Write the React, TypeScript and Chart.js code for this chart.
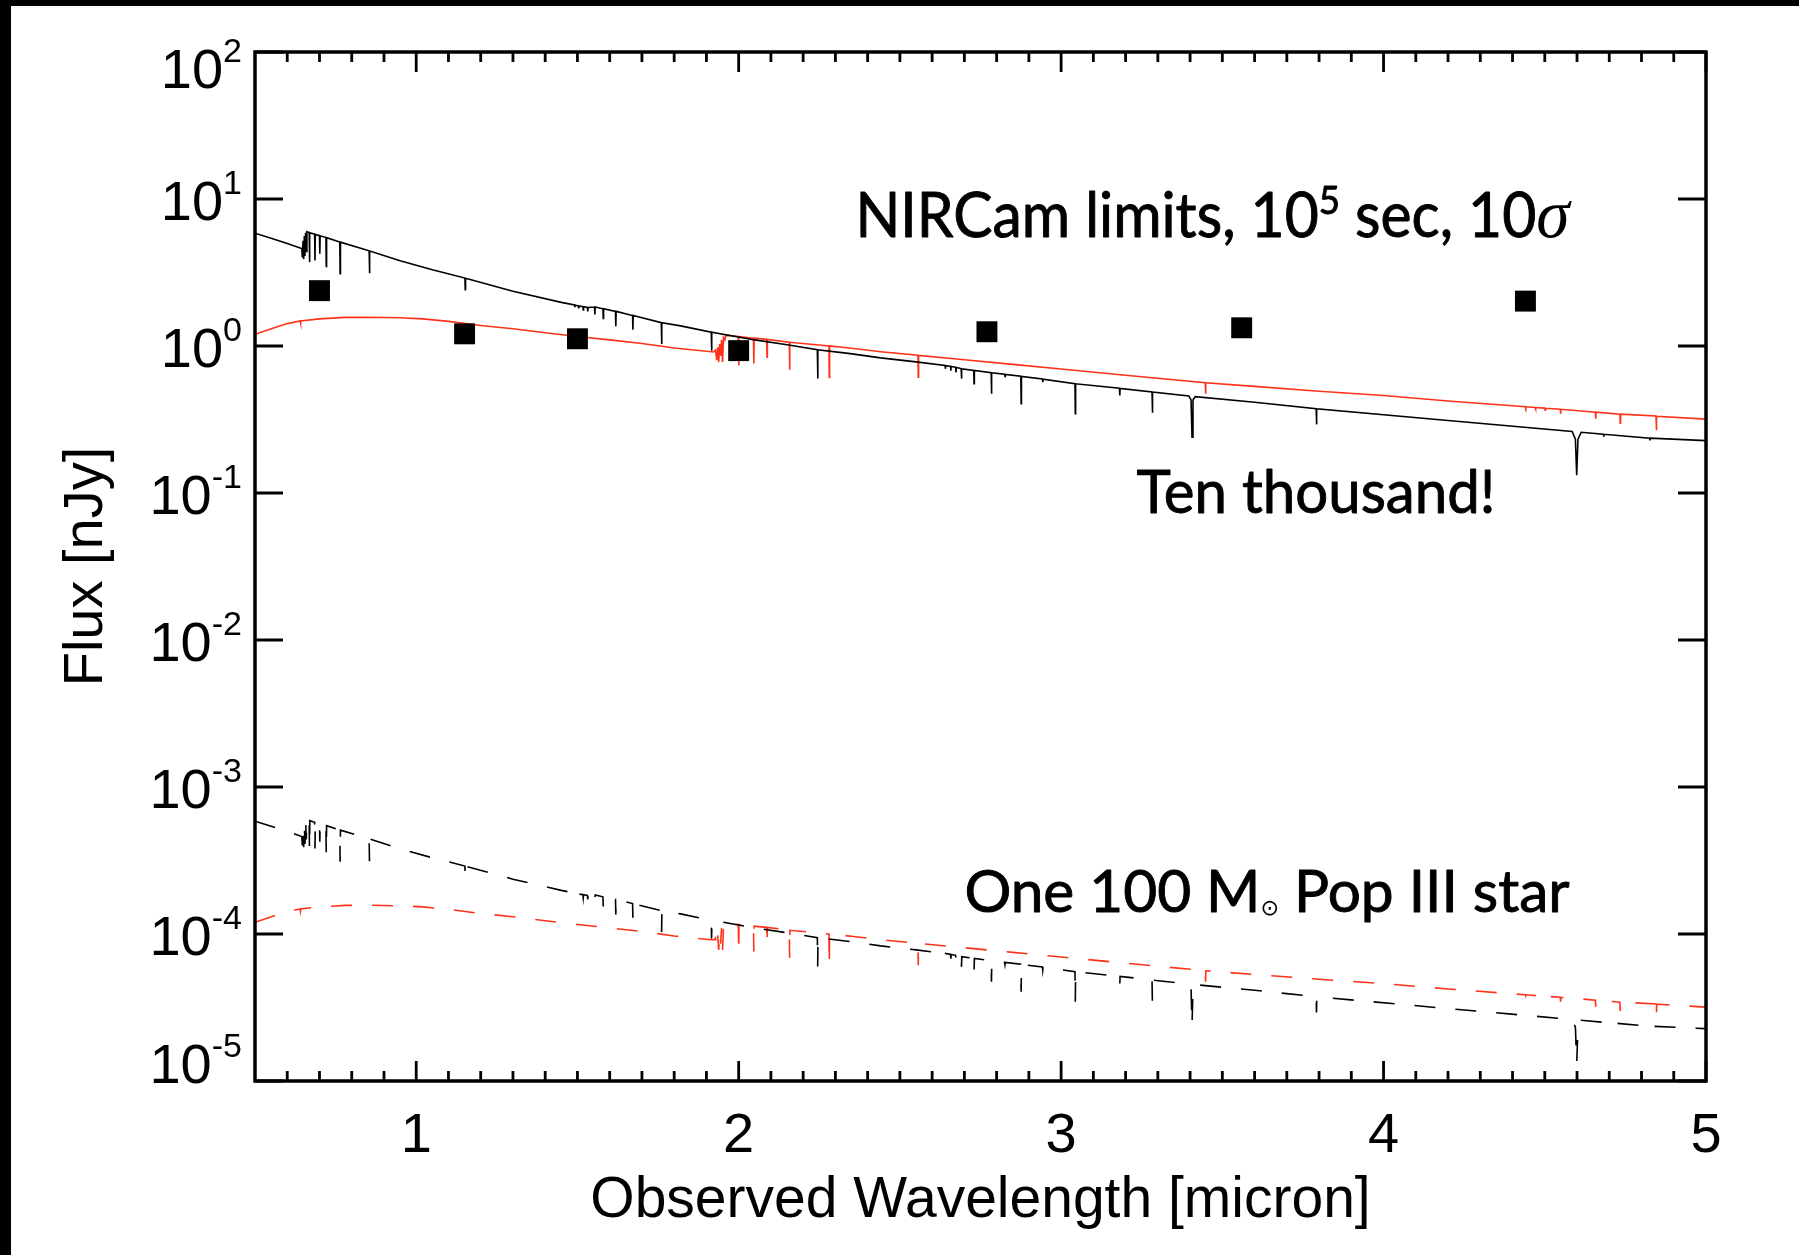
import React, { useEffect, useRef } from "react";
import { Chart, registerables } from "chart.js";

Chart.register(...registerables);

// ---------------- data ----------------
const wavelengthRange = [0.5, 5];
const fluxRange = [1e-5, 1e2];
const xMajorTicks = [1, 2, 3, 4, 5];
const xTickLabels = ["1", "2", "3", "4", "5"];
const yTickExponents = ["2", "1", "0", "-1", "-2", "-3", "-4", "-5"];

// NIRCam 10^5 s, 10 sigma limits (filled squares)
const nircamWavelength = [0.7, 1.15, 1.5, 2.0, 2.77, 3.56, 4.44];
const nircamLimit = [2.38, 1.21, 1.12, 0.93, 1.25, 1.33, 2.02];

// Ten thousand stars, black model (solid)
const tenThousandBlack: [number, number][] = [
  [0.5, 5.85], [0.55, 5.4], [0.6, 4.98], [0.645, 4.6],
  [0.647, 4.0], [0.649, 5.2], [0.651, 3.9], [0.653, 5.6], [0.655, 4.1], [0.657, 5.9], [0.659, 4.4], [0.661, 6.0],
  [0.668, 5.92], [0.669, 3.72], [0.67, 5.9], [0.685, 5.76], [0.686, 3.82], [0.687, 5.75],
  [0.7, 5.63], [0.701, 4.25], [0.702, 5.62], [0.72, 5.47], [0.721, 3.47], [0.722, 5.46],
  [0.763, 5.1], [0.764, 3.1], [0.765, 5.09], [0.854, 4.44], [0.855, 3.13], [0.856, 4.43],
  [0.95, 3.8], [1.05, 3.3], [1.151, 2.9], [1.152, 2.42], [1.153, 2.89], [1.3, 2.36], [1.45, 1.98],
  [1.491, 1.9], [1.492, 1.84], [1.493, 1.9], [1.503, 1.87], [1.504, 1.8], [1.505, 1.87],
  [1.517, 1.85], [1.518, 1.76], [1.519, 1.85], [1.531, 1.83], [1.532, 1.72], [1.533, 1.83],
  [1.553, 1.84], [1.554, 1.64], [1.555, 1.84], [1.579, 1.79], [1.58, 1.54], [1.581, 1.79],
  [1.618, 1.72], [1.619, 1.36], [1.62, 1.72], [1.671, 1.61], [1.672, 1.29], [1.673, 1.61],
  [1.76, 1.44], [1.761, 1.03], [1.762, 1.44], [1.82, 1.37], [1.915, 1.24], [1.916, 0.93], [1.917, 1.24],
  [2.05, 1.1], [2.15, 1.02], [2.244, 0.945], [2.245, 0.6], [2.246, 0.944], [2.346, 0.887], [2.44, 0.83],
  [2.55, 0.78], [2.64, 0.738], [2.641, 0.7], [2.642, 0.737], [2.657, 0.727], [2.658, 0.68], [2.659, 0.726],
  [2.673, 0.716], [2.674, 0.66], [2.675, 0.715], [2.69, 0.702], [2.691, 0.6], [2.692, 0.701],
  [2.729, 0.683], [2.73, 0.553], [2.731, 0.682], [2.783, 0.659], [2.784, 0.474], [2.785, 0.658],
  [2.825, 0.642], [2.826, 0.62], [2.827, 0.641], [2.875, 0.622], [2.876, 0.405], [2.877, 0.621],
  [2.942, 0.596], [2.943, 0.568], [2.944, 0.595], [3.043, 0.554], [3.044, 0.346], [3.045, 0.553],
  [3.181, 0.516], [3.182, 0.461], [3.183, 0.515], [3.282, 0.487], [3.283, 0.352], [3.284, 0.486],
  [3.396, 0.457], [3.403, 0.43], [3.406, 0.24], [3.409, 0.43], [3.416, 0.452], [3.6, 0.414],
  [3.791, 0.375], [3.792, 0.293], [3.793, 0.374], [4.2, 0.311],
  [4.585, 0.262], [4.595, 0.232], [4.599, 0.132], [4.603, 0.232], [4.613, 0.259],
  [4.682, 0.251], [4.683, 0.242], [4.684, 0.251], [4.825, 0.236], [4.826, 0.228], [4.827, 0.236], [5.0, 0.227],
];

// Ten thousand stars, red model (solid)
const tenThousandRed: [number, number][] = [
  [0.5, 1.2], [0.56, 1.33], [0.6, 1.42], [0.64, 1.48], [0.641, 1.43], [0.642, 1.48],
  [0.7, 1.53], [0.78, 1.565], [0.85, 1.57], [0.95, 1.555], [1.02, 1.53], [1.1, 1.47], [1.2, 1.38],
  [1.3, 1.31], [1.4, 1.23], [1.5, 1.16], [1.6, 1.1], [1.7, 1.04], [1.8, 0.97], [1.922, 0.91],
  [1.928, 0.94], [1.932, 0.8], [1.935, 0.98], [1.938, 0.78], [1.941, 1.03], [1.944, 0.86],
  [1.947, 1.1], [1.95, 0.78], [1.953, 1.14], [1.957, 1.1], [1.96, 1.17], [1.965, 1.18],
  [1.999, 1.16], [2.0, 0.74], [2.001, 1.16], [2.046, 1.13], [2.047, 0.76], [2.048, 1.13],
  [2.087, 1.11], [2.088, 0.84], [2.089, 1.11], [2.157, 1.06], [2.158, 0.69], [2.159, 1.06],
  [2.28, 1.0], [2.281, 0.61], [2.282, 1.0], [2.35, 0.965], [2.44, 0.915],
  [2.556, 0.865], [2.557, 0.614], [2.558, 0.864], [2.7, 0.806], [2.85, 0.75], [3.0, 0.697], [3.2, 0.633],
  [3.447, 0.563], [3.448, 0.474], [3.449, 0.562], [3.6, 0.531], [3.8, 0.492], [4.0, 0.46], [4.2, 0.423],
  [4.4, 0.392], [4.44, 0.386], [4.441, 0.38], [4.442, 0.386], [4.47, 0.382], [4.471, 0.374], [4.472, 0.381],
  [4.5, 0.378], [4.501, 0.366], [4.502, 0.377], [4.548, 0.371], [4.549, 0.346], [4.55, 0.371],
  [4.657, 0.355], [4.658, 0.32], [4.659, 0.355], [4.733, 0.344], [4.734, 0.299], [4.735, 0.344],
  [4.845, 0.334], [4.846, 0.267], [4.847, 0.333], [5.0, 0.318],
];

// One 100 Msun Pop III star, black model (dashed)
const oneStarBlack: [number, number][] = [
  [0.5, 5.85e-4], [0.55, 5.4e-4], [0.6, 4.98e-4], [0.645, 4.6e-4],
  [0.647, 4.0e-4], [0.649, 5.2e-4], [0.651, 3.9e-4], [0.653, 5.6e-4], [0.655, 4.1e-4], [0.657, 5.9e-4], [0.659, 4.4e-4], [0.661, 6.0e-4],
  [0.668, 5.92e-4], [0.669, 3.72e-4], [0.67, 5.9e-4], [0.685, 5.76e-4], [0.686, 3.82e-4], [0.687, 5.75e-4],
  [0.7, 5.63e-4], [0.701, 4.25e-4], [0.702, 5.62e-4], [0.72, 5.47e-4], [0.721, 3.47e-4], [0.722, 5.46e-4],
  [0.763, 5.1e-4], [0.764, 3.1e-4], [0.765, 5.09e-4], [0.854, 4.44e-4], [0.855, 3.13e-4], [0.856, 4.43e-4],
  [0.95, 3.8e-4], [1.05, 3.3e-4], [1.151, 2.9e-4], [1.152, 2.42e-4], [1.153, 2.89e-4], [1.3, 2.36e-4], [1.45, 1.98e-4],
  [1.491, 1.9e-4], [1.492, 1.84e-4], [1.493, 1.9e-4], [1.503, 1.87e-4], [1.504, 1.8e-4], [1.505, 1.87e-4],
  [1.517, 1.85e-4], [1.518, 1.76e-4], [1.519, 1.85e-4], [1.531, 1.83e-4], [1.532, 1.72e-4], [1.533, 1.83e-4],
  [1.553, 1.84e-4], [1.554, 1.64e-4], [1.555, 1.84e-4], [1.579, 1.79e-4], [1.58, 1.54e-4], [1.581, 1.79e-4],
  [1.618, 1.72e-4], [1.619, 1.36e-4], [1.62, 1.72e-4], [1.671, 1.61e-4], [1.672, 1.29e-4], [1.673, 1.61e-4],
  [1.76, 1.44e-4], [1.761, 1.03e-4], [1.762, 1.44e-4], [1.82, 1.37e-4], [1.915, 1.24e-4], [1.916, 0.93e-4], [1.917, 1.24e-4],
  [2.05, 1.1e-4], [2.15, 1.02e-4], [2.244, 0.945e-4], [2.245, 0.6e-4], [2.246, 0.944e-4], [2.346, 0.887e-4], [2.44, 0.83e-4],
  [2.55, 0.78e-4], [2.64, 0.738e-4], [2.641, 0.7e-4], [2.642, 0.737e-4], [2.657, 0.727e-4], [2.658, 0.68e-4], [2.659, 0.726e-4],
  [2.673, 0.716e-4], [2.674, 0.66e-4], [2.675, 0.715e-4], [2.69, 0.702e-4], [2.691, 0.6e-4], [2.692, 0.701e-4],
  [2.729, 0.683e-4], [2.73, 0.553e-4], [2.731, 0.682e-4], [2.783, 0.659e-4], [2.784, 0.474e-4], [2.785, 0.658e-4],
  [2.825, 0.642e-4], [2.826, 0.62e-4], [2.827, 0.641e-4], [2.875, 0.622e-4], [2.876, 0.405e-4], [2.877, 0.621e-4],
  [2.942, 0.596e-4], [2.943, 0.568e-4], [2.944, 0.595e-4], [3.043, 0.554e-4], [3.044, 0.346e-4], [3.045, 0.553e-4],
  [3.181, 0.516e-4], [3.182, 0.461e-4], [3.183, 0.515e-4], [3.282, 0.487e-4], [3.283, 0.352e-4], [3.284, 0.486e-4],
  [3.396, 0.457e-4], [3.403, 0.43e-4], [3.406, 0.24e-4], [3.409, 0.43e-4], [3.416, 0.452e-4], [3.6, 0.414e-4],
  [3.791, 0.375e-4], [3.792, 0.293e-4], [3.793, 0.374e-4], [4.2, 0.311e-4],
  [4.585, 0.262e-4], [4.595, 0.232e-4], [4.599, 0.132e-4], [4.603, 0.232e-4], [4.613, 0.259e-4],
  [4.682, 0.251e-4], [4.683, 0.242e-4], [4.684, 0.251e-4], [4.825, 0.236e-4], [4.826, 0.228e-4], [4.827, 0.236e-4], [5.0, 0.227e-4],
];

// One 100 Msun Pop III star, red model (dashed)
const oneStarRed: [number, number][] = [
  [0.5, 1.2e-4], [0.56, 1.33e-4], [0.6, 1.42e-4], [0.64, 1.48e-4], [0.641, 1.43e-4], [0.642, 1.48e-4],
  [0.7, 1.53e-4], [0.78, 1.565e-4], [0.85, 1.57e-4], [0.95, 1.555e-4], [1.02, 1.53e-4], [1.1, 1.47e-4], [1.2, 1.38e-4],
  [1.3, 1.31e-4], [1.4, 1.23e-4], [1.5, 1.16e-4], [1.6, 1.1e-4], [1.7, 1.04e-4], [1.8, 0.97e-4], [1.922, 0.91e-4],
  [1.928, 0.94e-4], [1.932, 0.8e-4], [1.935, 0.98e-4], [1.938, 0.78e-4], [1.941, 1.03e-4], [1.944, 0.86e-4],
  [1.947, 1.1e-4], [1.95, 0.78e-4], [1.953, 1.14e-4], [1.957, 1.1e-4], [1.96, 1.17e-4], [1.965, 1.18e-4],
  [1.999, 1.16e-4], [2.0, 0.74e-4], [2.001, 1.16e-4], [2.046, 1.13e-4], [2.047, 0.76e-4], [2.048, 1.13e-4],
  [2.087, 1.11e-4], [2.088, 0.84e-4], [2.089, 1.11e-4], [2.157, 1.06e-4], [2.158, 0.69e-4], [2.159, 1.06e-4],
  [2.28, 1.0e-4], [2.281, 0.61e-4], [2.282, 1.0e-4], [2.35, 0.965e-4], [2.44, 0.915e-4],
  [2.556, 0.865e-4], [2.557, 0.614e-4], [2.558, 0.864e-4], [2.7, 0.806e-4], [2.85, 0.75e-4], [3.0, 0.697e-4], [3.2, 0.633e-4],
  [3.447, 0.563e-4], [3.448, 0.474e-4], [3.449, 0.562e-4], [3.6, 0.531e-4], [3.8, 0.492e-4], [4.0, 0.46e-4], [4.2, 0.423e-4],
  [4.4, 0.392e-4], [4.44, 0.386e-4], [4.441, 0.38e-4], [4.442, 0.386e-4], [4.47, 0.382e-4], [4.471, 0.374e-4], [4.472, 0.381e-4],
  [4.5, 0.378e-4], [4.501, 0.366e-4], [4.502, 0.377e-4], [4.548, 0.371e-4], [4.549, 0.346e-4], [4.55, 0.371e-4],
  [4.657, 0.355e-4], [4.658, 0.32e-4], [4.659, 0.355e-4], [4.733, 0.344e-4], [4.734, 0.299e-4], [4.735, 0.344e-4],
  [4.845, 0.334e-4], [4.846, 0.267e-4], [4.847, 0.333e-4], [5.0, 0.318e-4],
];

// Annotation texts, anchored in data coordinates (left x, right x, baseline y)
const annotationNircam = { x0: 2.362, x1: 4.577, y: 5.5 };
const annotationTenK = { x0: 3.234, x1: 4.347, y: 0.0726 };
const annotationOneStar = { x0: 2.7, x1: 4.577, y: 1.41e-4 };

// ---------------- styling ----------------
const RED = "#ff3219";
const SANS = '"Liberation Sans", Arial, Helvetica, sans-serif';
const GILL = 'Lato, "Noto Sans", sans-serif';
const SERIF = '"Liberation Serif", "DejaVu Serif", serif';

const xMinorTicks: number[] = [];
for (let i = 6; i < 50; i++) if (i % 10 !== 0) xMinorTicks.push(i / 10);

type Part = { t: string; font: string; dy?: number; noStroke?: boolean };

function drawRich(ctx: CanvasRenderingContext2D, parts: Part[], x0: number, x1: number, y: number) {
  let total = 0;
  for (const p of parts) {
    ctx.font = p.font;
    total += ctx.measureText(p.t).width;
  }
  let sx = (x1 - x0) / total;
  sx = Math.max(0.8, Math.min(1.2, sx));
  ctx.save();
  ctx.translate(x0, y);
  ctx.scale(sx, 1);
  ctx.textAlign = "left";
  ctx.textBaseline = "alphabetic";
  ctx.lineWidth = 0.9;
  ctx.strokeStyle = "#000";
  ctx.lineJoin = "round";
  let cx = 0;
  for (const p of parts) {
    ctx.font = p.font;
    ctx.fillText(p.t, cx, p.dy || 0);
    if (!p.noStroke) ctx.strokeText(p.t, cx, p.dy || 0);
    cx += ctx.measureText(p.t).width;
  }
  ctx.restore();
}

const framePlugin = {
  id: "idlFrame",
  afterDraw(chart: any) {
    const ctx: CanvasRenderingContext2D = chart.ctx;
    const xs = chart.scales.x;
    const ys = chart.scales.y;
    const L = xs.getPixelForValue(wavelengthRange[0]);
    const R = xs.getPixelForValue(wavelengthRange[1]);
    const T = ys.getPixelForValue(fluxRange[1]);
    const B = ys.getPixelForValue(fluxRange[0]);

    ctx.save();
    ctx.strokeStyle = "#000";
    ctx.fillStyle = "#000";
    ctx.lineCap = "butt";

    // tick marks (inward, mirrored on top / right)
    ctx.lineWidth = 2.8;
    ctx.beginPath();
    for (const v of xMajorTicks) {
      const px = xs.getPixelForValue(v);
      ctx.moveTo(px, B);
      ctx.lineTo(px, B - 20);
      ctx.moveTo(px, T);
      ctx.lineTo(px, T + 20);
    }
    for (const v of xMinorTicks) {
      const px = xs.getPixelForValue(v);
      ctx.moveTo(px, B);
      ctx.lineTo(px, B - 10);
      ctx.moveTo(px, T);
      ctx.lineTo(px, T + 10);
    }
    for (const e of yTickExponents) {
      const py = ys.getPixelForValue(Math.pow(10, Number(e)));
      ctx.moveTo(L, py);
      ctx.lineTo(L + 28, py);
      ctx.moveTo(R, py);
      ctx.lineTo(R - 28, py);
    }
    ctx.stroke();

    // axis box
    ctx.lineWidth = 3.5;
    ctx.beginPath();
    ctx.rect(L, T, R - L, B - T);
    ctx.stroke();

    // x tick labels
    ctx.textAlign = "center";
    ctx.textBaseline = "alphabetic";
    ctx.font = `56px ${SANS}`;
    xMajorTicks.forEach((v, i) => {
      ctx.fillText(xTickLabels[i], xs.getPixelForValue(v), B + 71);
    });

    // y tick labels: 10^n
    ctx.textAlign = "left";
    const mainFont = `56px ${SANS}`;
    const supFont = `34px ${SANS}`;
    yTickExponents.forEach((e, i) => {
      const py = ys.getPixelForValue(Math.pow(10, Number(e)));
      let base = py + 21;
      if (i === 0) base = py + 36;
      if (i === yTickExponents.length - 1) base = py + 1.5;
      ctx.font = mainFont;
      const w1 = ctx.measureText("10").width;
      ctx.font = supFont;
      const w2 = ctx.measureText(e).width;
      const right = L - 13;
      const start = right - w1 - w2;
      ctx.font = mainFont;
      ctx.fillText("10", start, base);
      ctx.font = supFont;
      ctx.fillText(e, start + w1, base - 26);
    });

    // axis titles
    ctx.textAlign = "center";
    ctx.font = `57px ${SANS}`;
    ctx.fillText("Observed Wavelength [micron]", (L + R) / 2, B + 135.5);
    ctx.save();
    ctx.translate(L - 153, (T + B) / 2);
    ctx.rotate(-Math.PI / 2);
    ctx.font = `56px ${SANS}`;
    ctx.fillText("Flux [nJy]", 0, 0);
    ctx.restore();

    // annotations
    const a1 = annotationNircam;
    drawRich(
      ctx,
      [
        { t: "NIRCam limits, 10", font: `61px ${GILL}` },
        { t: "5", font: `38px ${GILL}`, dy: -23 },
        { t: " sec, 10", font: `61px ${GILL}` },
        { t: "σ", font: `italic 70px ${SERIF}`, noStroke: true },
      ],
      xs.getPixelForValue(a1.x0),
      xs.getPixelForValue(a1.x1),
      ys.getPixelForValue(a1.y)
    );
    const a2 = annotationTenK;
    drawRich(
      ctx,
      [{ t: "Ten thousand!", font: `60px ${GILL}` }],
      xs.getPixelForValue(a2.x0),
      xs.getPixelForValue(a2.x1),
      ys.getPixelForValue(a2.y)
    );
    const a3 = annotationOneStar;
    drawRich(
      ctx,
      [
        { t: "One 100 M", font: `58px ${GILL}` },
        { t: "⊙", font: `22px "DejaVu Sans", sans-serif`, dy: 3, noStroke: true },
        { t: " Pop III star", font: `58px ${GILL}` },
      ],
      xs.getPixelForValue(a3.x0),
      xs.getPixelForValue(a3.x1),
      ys.getPixelForValue(a3.y)
    );

    ctx.restore();
  },
};

const toXY = (arr: [number, number][]) => arr.map(([x, y]) => ({ x, y }));

export default function App() {
  const canvasRef = useRef<HTMLCanvasElement | null>(null);

  useEffect(() => {
    const canvas = canvasRef.current;
    if (!canvas) return;
    const lineBase = { showLine: true, pointRadius: 0, borderWidth: 1.6, tension: 0, fill: false };
    const chart = new Chart(canvas, {
      type: "scatter",
      data: {
        datasets: [
          {
            label: "NIRCam limits",
            data: nircamWavelength.map((x, i) => ({ x, y: nircamLimit[i] })),
            showLine: false,
            pointStyle: "rect",
            pointRadius: 14.8,
            pointBackgroundColor: "#000",
            backgroundColor: "#000",
            borderWidth: 0,
            pointBorderWidth: 0,
          },
          { label: "10^4 black", data: toXY(tenThousandBlack), borderColor: "#000", ...lineBase },
          { label: "10^4 red", data: toXY(tenThousandRed), borderColor: RED, ...lineBase },
          { label: "1 star black", data: toXY(oneStarBlack), borderColor: "#000", borderDash: [21, 20], ...lineBase },
          { label: "1 star red", data: toXY(oneStarRed), borderColor: RED, borderDash: [21, 20], ...lineBase },
        ] as any,
      },
      options: {
        animation: false,
        responsive: false,
        devicePixelRatio: 1,
        events: [],
        layout: { padding: { left: 255, top: 52, right: 93, bottom: 174 } },
        plugins: { legend: { display: false }, tooltip: { enabled: false } },
        scales: {
          x: { type: "linear", min: wavelengthRange[0], max: wavelengthRange[1], display: false },
          y: { type: "logarithmic", min: fluxRange[0], max: fluxRange[1], display: false },
        },
      } as any,
      plugins: [framePlugin],
    });
    return () => chart.destroy();
  }, []);

  return (
    <div style={{ position: "fixed", left: 0, top: 0, width: 1799, height: 1255, background: "#fff", overflow: "hidden" }}>
      <canvas ref={canvasRef} width={1799} height={1255} style={{ position: "absolute", left: 0, top: 0, width: 1799, height: 1255 }} />
      <div style={{ position: "absolute", left: 0, top: 0, width: 1799, height: 6, background: "#000" }} />
      <div style={{ position: "absolute", left: 0, top: 0, width: 11, height: 1255, background: "#000" }} />
    </div>
  );
}
